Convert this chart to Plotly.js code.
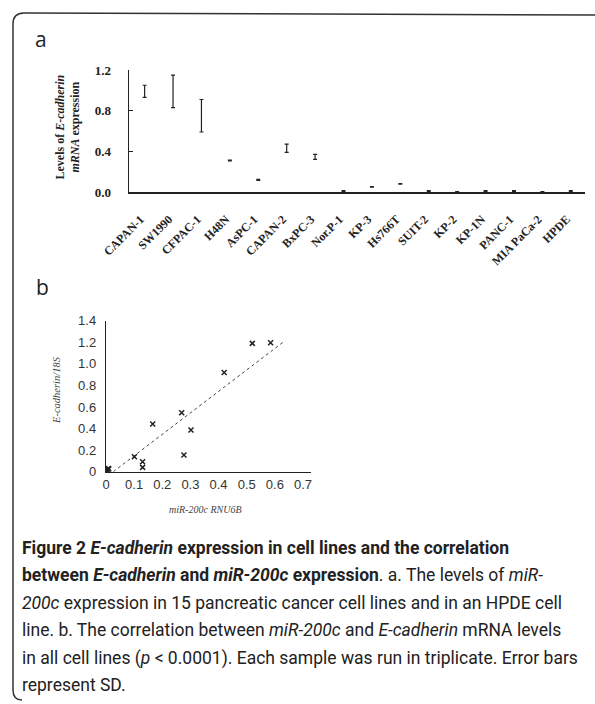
<!DOCTYPE html>
<html>
<head>
<meta charset="utf-8">
<script src="https://cdn.plot.ly/plotly-3.0.1.min.js"></script>
<style>html,body{margin:0;padding:0;background:#fff;}#chart{width:595px;height:704px;}</style>
</head>
<body>
<div id="chart"></div>
<script>
// Panel a: E-cadherin mRNA levels per cell line (mean, SD)
const cellLines = ["CAPAN-1","SW1990","CFPAC-1","H48N","AsPC-1","CAPAN-2","BxPC-3","Nor.P-1","KP-3","Hs766T","SUIT-2","KP-2","KP-1N","PANC-1","MIA PaCa-2","HPDE"];
const ecadMean = [0.99, 0.99, 0.75, 0.31, 0.12, 0.43, 0.345, 0.01, 0.05, 0.08, 0.01, 0.003, 0.01, 0.01, 0.003, 0.01];
const ecadSD   = [0.06, 0.16, 0.16, 0.005, 0.005, 0.04, 0.025, 0.003, 0.003, 0.003, 0.003, 0.002, 0.003, 0.003, 0.002, 0.003];
const yTicksA = [0, 0.4, 0.8, 1.2];
const yTickTextA = ["0.0", "0.4", "0.8", "1.2"];

// Panel b: miR-200c vs E-cadherin scatter
const mirX  = [0.585, 0.52, 0.42, 0.269, 0.302, 0.166, 0.277, 0.101, 0.13, 0.13, 0.003, 0.005, 0.008, 0.004, 0.006, 0.01];
const ecadY = [1.196, 1.19, 0.92, 0.547, 0.386, 0.442, 0.155, 0.139, 0.093, 0.04, 0.01, 0.02, 0.03, 0.015, 0.005, 0.025];
const trendX = [0.026, 0.636];
const trendY = [0.0, 1.214];
const xTicksB = [0, 0.1, 0.2, 0.3, 0.4, 0.5, 0.6, 0.7];
const xTickTextB = ["0", "0.1", "0.2", "0.3", "0.4", "0.5", "0.6", "0.7"];
const yTicksB = [0, 0.2, 0.4, 0.6, 0.8, 1.0, 1.2, 1.4];
const yTickTextB = ["0", "0.2", "0.4", "0.6", "0.8", "1.0", "1.2", "1.4"];

const captionLines = [
  "<b>Figure 2 <i>E-cadherin</i> expression in cell lines and the correlation</b>",
  "<b>between <i>E-cadherin</i> and <i>miR-200c</i> expression</b>. a. The levels of <i>miR-</i>",
  "<i>200c</i> expression in 15 pancreatic cancer cell lines and in an HPDE cell",
  "line. b. The correlation between <i>miR-200c</i> and <i>E-cadherin</i> mRNA levels",
  "in all cell lines (<i>p</i> &lt; 0.0001). Each sample was run in triplicate. Error bars",
  "represent SD."
];

const W = 595, H = 704;
const px = v => v / W;
const py = v => 1 - v / H;
const serif = "Liberation Serif, Times New Roman, serif";
const sans = "Liberation Sans, Arial, sans-serif";

const traces = [
  {
    type: "bar", x: cellLines, y: ecadMean, xaxis: "x", yaxis: "y",
    marker: {color: "rgba(0,0,0,0)", line: {width: 0}},
    error_y: {type: "data", array: ecadSD, visible: true, color: "#222", thickness: 1.2, width: 2},
    hoverinfo: "x+y", showlegend: false
  },
  {
    type: "scatter", mode: "lines", x: trendX, y: trendY, xaxis: "x2", yaxis: "y2",
    line: {color: "#444", width: 1, dash: "dot"}, showlegend: false, hoverinfo: "skip"
  },
  {
    type: "scatter", mode: "markers", x: mirX, y: ecadY, xaxis: "x2", yaxis: "y2",
    marker: {symbol: "x-thin-open", size: 5, color: "#222", line: {color: "#222", width: 1.5}},
    showlegend: false
  }
];

const ann = (text, x, y, font, extra) => Object.assign({text: text, x: px(x), y: py(y), xref: "paper", yref: "paper",
  xanchor: "center", yanchor: "middle", showarrow: false, font: font}, extra || {});

const annotations = [
  ann("a", 41, 39, {family: "Open Sans, sans-serif", size: 21, color: "#222"}),
  ann("b", 42, 287, {family: "Open Sans, sans-serif", size: 21, color: "#222"}),
  ann("Levels of <i>E-cadherin</i><br><i>mRNA</i> expression", 67.5, 127, {family: serif, size: 12, color: "#222", weight: "bold"}, {textangle: -90}),
  ann("<i>E-cadherin/18S</i>", 56, 390, {family: serif, size: 10.5, color: "#444"}, {textangle: -90}),
  ann("<i>miR-200c RNU6B</i>", 205, 509, {family: serif, size: 10, color: "#444"})
];
const lineY = [548, 575, 603, 630, 658, 685];
captionLines.forEach((t, i) => {
  annotations.push(ann(t, 20, lineY[i], {family: "Roboto, sans-serif", size: 17.5, color: "#222"}, {xanchor: "left"}));
});

const layout = {
  width: W, height: H,
  margin: {l: 0, r: 0, t: 0, b: 0},
  paper_bgcolor: "#fff", plot_bgcolor: "rgba(0,0,0,0)",
  showlegend: false,
  xaxis: {
    domain: [px(129), px(585)], anchor: "y", type: "category", range: [-0.55, 15.5],
    showline: true, linecolor: "#222", linewidth: 1.5, ticks: "", showgrid: false, zeroline: false,
    tickangle: -45, ticklabelstandoff: 14, ticklabelshift: -4,
    tickfont: {family: serif, size: 12, color: "#222", weight: "bold"}
  },
  yaxis: {
    domain: [py(192), py(70)], anchor: "x", range: [0, 1.2],
    showline: true, linecolor: "#222", linewidth: 1.5, ticks: "inside", ticklen: 4, tickcolor: "#222",
    tickvals: yTicksA, ticktext: yTickTextA, ticklabelstandoff: 14,
    showgrid: false, zeroline: false,
    tickfont: {family: serif, size: 13, color: "#222", weight: "bold"}
  },
  xaxis2: {
    domain: [px(106), px(311.4)], anchor: "y2", range: [0, 0.73],
    showline: true, linecolor: "#222", linewidth: 1.2, ticks: "", showgrid: false, zeroline: false,
    tickvals: xTicksB, ticktext: xTickTextB,
    tickfont: {family: sans, size: 13, color: "#333"}
  },
  yaxis2: {
    domain: [py(471.7), py(320.7)], anchor: "x2", range: [0, 1.4],
    showline: true, linecolor: "#222", linewidth: 1.2, ticks: "", showgrid: false, zeroline: false,
    tickvals: yTicksB, ticktext: yTickTextB, ticklabelstandoff: 6,
    tickfont: {family: sans, size: 13, color: "#333"}
  },
  annotations: annotations,
  shapes: [
    {type: "path", xref: "paper", yref: "paper",
     path: "M 1.02," + py(15) + " L " + px(24) + "," + py(13) + " Q " + px(13) + "," + py(13) + " " + px(13) + "," + py(24) +
           " L " + px(13) + "," + py(690) + " Q " + px(13) + "," + py(700) + " " + px(22) + "," + py(700),
     line: {color: "#333", width: 1.5}}
  ]
};

Plotly.newPlot("chart", traces, layout, {staticPlot: true, displayModeBar: false});
</script>
</body>
</html>
